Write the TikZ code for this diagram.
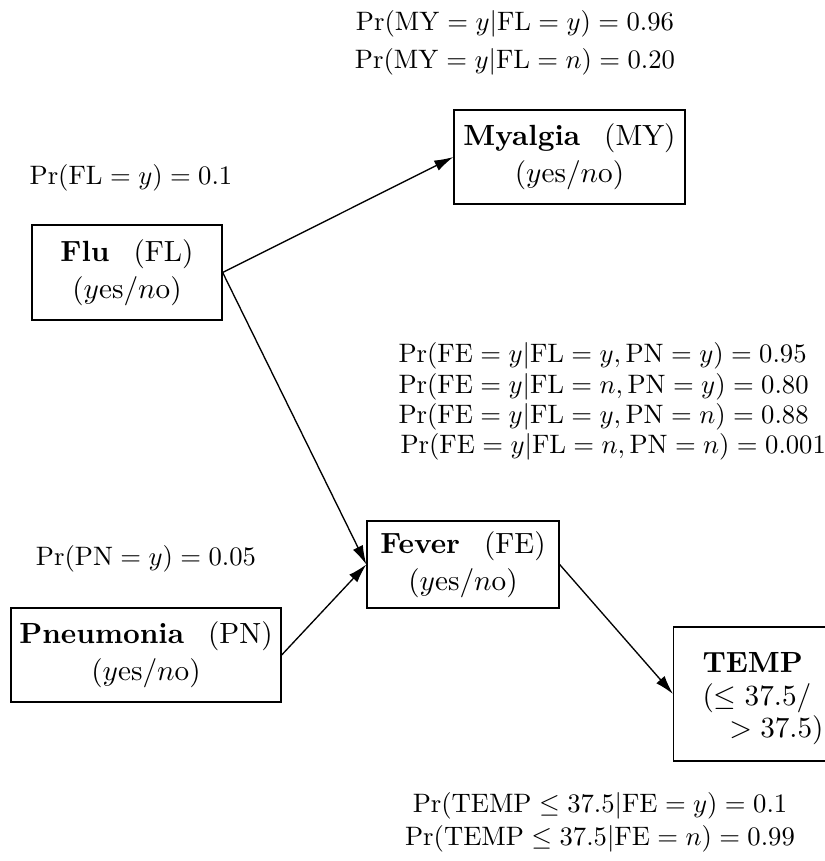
\documentclass[tikz,border=0pt]{standalone}
\usetikzlibrary{arrows.meta}
\newcommand\boxfont{\fontsize{10.95}{12.2}\selectfont}
\newcommand\yesno{$(y\mathrm{es}/n\mathrm{o})$}
\begin{document}
\begin{tikzpicture}[x=0.375pt, y=-0.375pt,
  var/.style={draw, line width=0.5pt, rectangle, inner sep=0pt, align=center,
    font=\boxfont, minimum width=#1*0.375pt},
  edge/.style={-{Latex[length=19*0.375pt, width=11*0.375pt]}, line width=0.5pt},
  lbl/.style={inner sep=0pt, anchor=base}]
\clip (0,0) rectangle (825,861);
\useasboundingbox (0,0) rectangle (825,861);

% variable boxes
\node[var=190, minimum height=95*0.375pt] (flu) at (127,272.5)
  {\textbf{Flu}\hspace{9pt}(FL)\\[1.8pt] \yesno};
\node[var=231, minimum height=94*0.375pt] (my) at (569.5,157)
  {\textbf{Myalgia}\hspace{9pt}(MY)\\[1.8pt] \yesno};
\node[var=192, minimum height=87*0.375pt] (fe) at (463,564.5)
  {\textbf{Fever}\hspace{9pt}(FE)\\[1.8pt] \yesno};
\node[var=270, minimum height=94*0.375pt] (pn) at (146,655)
  {\textbf{Pneumonia}\hspace{9pt}(PN)\\[1.8pt] \yesno};
\node[draw, line width=0.5pt, rectangle, anchor=west, inner sep=0pt,
  minimum width=180*0.375pt, minimum height=134*0.375pt] (temp) at (673,694) {};
\node[anchor=north west, inner sep=0pt, text width=121*0.375pt, align=left,
  font=\boxfont] at (702,652)
  {\textbf{TEMP}\\ $(\leq 37.5/$\\ \hfill$>37.5)$};

% dependencies
\draw[edge] (flu.east) -- (my.west);
\draw[edge] (flu.east) -- (fe.west);
\draw[edge] (pn.east) -- (fe.west);
\draw[edge] (fe.east) -- (temp.west);

% probability tables
\node[lbl] at (131,184) {$\Pr(\mathrm{FL}=y)=0.1$};
\node[lbl] at (515,30) {$\Pr(\mathrm{MY}=y|\mathrm{FL}=y)=0.96$};
\node[lbl] at (515,68) {$\Pr(\mathrm{MY}=y|\mathrm{FL}=n)=0.20$};
\node[lbl] at (146,565) {$\Pr(\mathrm{PN}=y)=0.05$};
\node[lbl, anchor=base west] at (398,362) {$\Pr(\mathrm{FE}=y|\mathrm{FL}=y,\mathrm{PN}=y)=0.95$};
\node[lbl, anchor=base west] at (398,393) {$\Pr(\mathrm{FE}=y|\mathrm{FL}=n,\mathrm{PN}=y)=0.80$};
\node[lbl, anchor=base west] at (398,423) {$\Pr(\mathrm{FE}=y|\mathrm{FL}=y,\mathrm{PN}=n)=0.88$};
\node[lbl, anchor=base west] at (400,453) {$\Pr(\mathrm{FE}=y|\mathrm{FL}=n,\mathrm{PN}=n)=0.001$};
\node[lbl] at (600,812) {$\Pr(\mathrm{TEMP}\leq 37.5|\mathrm{FE}=y)=0.1$};
\node[lbl] at (600,845) {$\Pr(\mathrm{TEMP}\leq 37.5|\mathrm{FE}=n)=0.99$};
\end{tikzpicture}
\end{document}
